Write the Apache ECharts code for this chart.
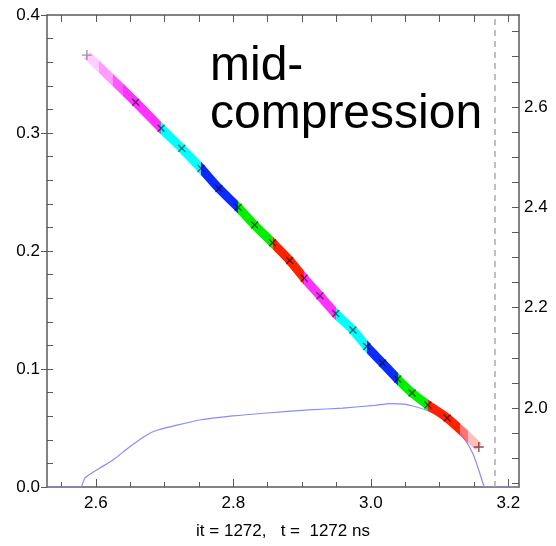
<!DOCTYPE html>
<html>
<head>
<meta charset="utf-8">
<script src="https://cdn.jsdelivr.net/npm/echarts@6/dist/echarts.min.js"></script>
<style>
html,body{margin:0;padding:0;background:#fff;}
#chart{width:556px;height:546px;}
</style>
</head>
<body>
<div id="chart"></div>
<script>
// ---- data ----
const curveX = [2.587, 2.658, 2.695, 2.725, 2.753, 2.779, 2.807, 2.831, 2.857, 2.882, 2.903, 2.926, 2.949, 2.974, 2.994, 3.017, 3.039, 3.060, 3.083, 3.111, 3.157];
const curveY = [0.366, 0.326, 0.304, 0.287, 0.270, 0.253, 0.237, 0.222, 0.207, 0.192, 0.177, 0.162, 0.147, 0.133, 0.119, 0.105, 0.0915, 0.0797, 0.0695, 0.0585, 0.0339];
const colorBreaks = [2.695, 2.753, 2.807, 2.857, 2.903, 2.949, 2.994, 3.039, 3.083];
const segColors = ['#ff33ff', '#00ffff', '#0a2cff', '#00f000', '#ff2200', '#ff33ff', '#00ffff', '#0a2cff', '#00f000', '#ff2200'];
const blueX = [2.529, 2.578, 2.584, 2.606, 2.625, 2.649, 2.674, 2.690, 2.718, 2.751, 2.799, 2.849, 2.910, 2.959, 3.006, 3.028, 3.048, 3.065, 3.080, 3.098, 3.116, 3.134, 3.148, 3.157, 3.164, 3.167, 3.2155];
const blueY = [0, 0, 0.0076, 0.0161, 0.0229, 0.0339, 0.0441, 0.0483, 0.0525, 0.0568, 0.0602, 0.0627, 0.0653, 0.0669, 0.0692, 0.0707, 0.0702, 0.0680, 0.0652, 0.0605, 0.0530, 0.0424, 0.0288, 0.0144, 0.0017, 0, 0];
const refLineX = 3.178;
const xMajor = [2.6, 2.8, 3.0, 3.2];
const xMinor = [2.55, 2.6, 2.65, 2.7, 2.75, 2.8, 2.85, 2.9, 2.95, 3.0, 3.05, 3.1, 3.15, 3.2];
const yLeftMajor = [0, 0.1, 0.2, 0.3, 0.4];
const yLeftMinor = [0.02, 0.04, 0.06, 0.08, 0.1, 0.12, 0.14, 0.16, 0.18, 0.2, 0.22, 0.24, 0.26, 0.28, 0.3, 0.32, 0.34, 0.36, 0.38];
const yRightMajor = [2.0, 2.2, 2.4, 2.6];
const yRightMinor = [1.85, 1.9, 1.95, 2.0, 2.05, 2.1, 2.15, 2.2, 2.25, 2.3, 2.35, 2.4, 2.45, 2.5, 2.55, 2.6, 2.65, 2.7, 2.75];
const XMIN = 2.529, XMAX = 3.2155, YMIN = 0, YMAX = 0.4, Y2MIN = 1.843, Y2MAX = 2.783;
const xLabelText = 'it = 1272,   t =  1272 ns';
const noteText = 'mid-\ncompression';

// ---- build ----
const FONT = '"Liberation Sans", Arial, Helvetica, sans-serif';
const AX = '#5a5a5a';
const pieces = [];
pieces.push({gte: XMIN, lt: 2.605, color: 'rgba(255,120,255,0.35)'});
pieces.push({gte: 2.605, lt: 2.625, color: 'rgba(255,90,255,0.6)'});
pieces.push({gte: 2.625, lt: 2.64, color: 'rgba(255,60,255,0.85)'});
const bounds = [2.64].concat(colorBreaks).concat([3.13]);
for (let i = 0; i < segColors.length; i++) {
  pieces.push({gte: bounds[i], lt: bounds[i + 1], color: segColors[i]});
}
pieces.push({gte: 3.13, lt: 3.142, color: 'rgba(255,60,50,0.7)'});
pieces.push({gte: 3.142, lte: XMAX, color: 'rgba(255,90,90,0.4)'});

const curveData = curveX.map((x, i) => [x, curveY[i]]);
const crossData = curveData.slice(1, -1);
const blueData = blueX.map((x, i) => [x, blueY[i]]);
const X_PATH = 'path://M0,1.2L1.2,0L5,3.8L8.8,0L10,1.2L6.2,5L10,8.8L8.8,10L5,6.2L1.2,10L0,8.8L3.8,5Z';
const P_PATH = 'path://M4.3,0H5.7V4.3H10V5.7H5.7V10H4.3V5.7H0V4.3H4.3Z';
const fmt1 = v => Number(v).toFixed(1);

const chart = echarts.init(document.getElementById('chart'), null, {renderer: 'canvas'});
chart.setOption({
  animation: false,
  backgroundColor: '#fff',
  textStyle: {fontFamily: FONT},
  grid: {left: 47, right: 37, top: 15, bottom: 59, containLabel: false},
  visualMap: {
    type: 'piecewise', show: false, seriesIndex: 1, dimension: 0,
    pieces: pieces
  },
  xAxis: [
    {
      type: 'value', position: 'bottom', min: XMIN, max: XMAX,
      axisLine: {show: true, onZero: false, lineStyle: {color: AX, width: 1.5}},
      axisTick: {show: true, inside: true, length: 8, customValues: xMajor, lineStyle: {color: AX, width: 1}},
      axisLabel: {customValues: xMajor, formatter: fmt1, fontSize: 17, color: '#000', margin: 8, fontFamily: FONT},
      splitLine: {show: false},
      name: xLabelText, nameLocation: 'middle', nameGap: 36,
      nameTextStyle: {fontSize: 17, color: '#000', fontFamily: FONT}
    },
    {
      type: 'value', position: 'top', min: XMIN, max: XMAX,
      axisLine: {show: true, onZero: false, lineStyle: {color: AX, width: 1.5}},
      axisTick: {show: true, inside: true, length: 7, customValues: xMinor, lineStyle: {color: AX, width: 1}},
      axisLabel: {show: false},
      splitLine: {show: false}
    },
    {
      type: 'value', position: 'bottom', min: XMIN, max: XMAX,
      axisLine: {show: false, onZero: false},
      axisTick: {show: true, inside: true, length: 5, customValues: xMinor, lineStyle: {color: AX, width: 1}},
      axisLabel: {show: false},
      splitLine: {show: false}
    }
  ],
  yAxis: [
    {
      type: 'value', position: 'left', min: YMIN, max: YMAX,
      axisLine: {show: true, onZero: false, lineStyle: {color: AX, width: 1.5}},
      axisTick: {show: true, inside: false, length: 6, customValues: yLeftMajor, lineStyle: {color: AX, width: 1}},
      axisLabel: {customValues: yLeftMajor, formatter: fmt1, fontSize: 17, color: '#000', margin: 7, fontFamily: FONT},
      splitLine: {show: false}
    },
    {
      type: 'value', position: 'right', min: Y2MIN, max: Y2MAX,
      axisLine: {show: true, onZero: false, lineStyle: {color: AX, width: 1.5}},
      axisTick: {show: true, inside: true, length: 7, customValues: yRightMinor, lineStyle: {color: AX, width: 1}},
      axisLabel: {customValues: yRightMajor, formatter: fmt1, fontSize: 17, color: '#000', margin: 5, fontFamily: FONT},
      splitLine: {show: false}
    },
    {
      type: 'value', position: 'left', min: YMIN, max: YMAX,
      axisLine: {show: false, onZero: false},
      axisTick: {show: true, inside: true, length: 6, customValues: yLeftMinor, lineStyle: {color: AX, width: 1}},
      axisLabel: {show: false},
      splitLine: {show: false}
    }
  ],
  series: [
    {
      type: 'line', xAxisIndex: 0, yAxisIndex: 0, data: blueData,
      showSymbol: false, z: 1, smooth: 0.2,
      lineStyle: {color: '#8a8aff', width: 1.2},
      markLine: {
        silent: true, symbol: ['none', 'none'], label: {show: false},
        lineStyle: {color: '#aaaaaa', type: [6, 5], width: 1.5},
        data: [{xAxis: refLineX}]
      }
    },
    {
      type: 'line', xAxisIndex: 0, yAxisIndex: 0, data: curveData,
      showSymbol: false, z: 2, smooth: 0.3,
      lineStyle: {width: 9, cap: 'butt', join: 'round'}
    },
    {
      type: 'scatter', xAxisIndex: 0, yAxisIndex: 0, data: crossData,
      symbol: X_PATH, symbolSize: 8, z: 3,
      itemStyle: {color: 'rgba(0,0,0,0.7)'}
    },
    {
      type: 'scatter', xAxisIndex: 0, yAxisIndex: 0,
      data: [
        {value: curveData[0], itemStyle: {color: '#808080'}},
        {value: curveData[curveData.length - 1], itemStyle: {color: '#7a2020'}}
      ],
      symbol: P_PATH, symbolSize: 10, z: 4
    }
  ],
  graphic: [
    {
      type: 'text', left: 210, top: 43, z: 10,
      style: {text: noteText, font: '48px "Liberation Sans", Arial, sans-serif', lineHeight: 48, fill: '#000'}
    }
  ]
});
</script>
</body>
</html>
